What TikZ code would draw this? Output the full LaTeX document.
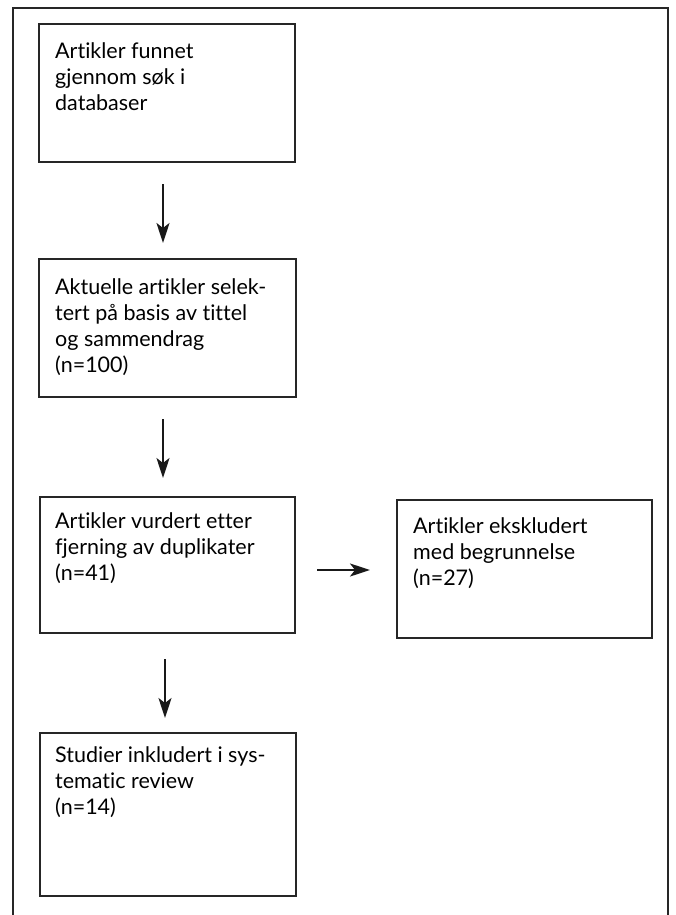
\documentclass[tikz,border=0pt]{standalone}
\usepackage{fontspec}
\setmainfont{Lato}[Ligatures={NoCommon,NoRare}]
\usetikzlibrary{arrows.meta}
\begin{document}
\begin{tikzpicture}[x=1pt,y=-1pt,
  box/.style={draw=black!85,line width=2pt,inner sep=0pt,rectangle},
  txt/.style={anchor=north west,inner sep=0pt,align=left,font=\fontsize{21.5}{26}\selectfont,text=black},
  arr/.style={line width=2pt,black!90,-{Stealth[length=20pt,width=13pt,inset=5pt]}}]
\useasboundingbox (0,0) rectangle (676,915);
\draw[line width=2pt,black!85] (13,925) -- (13,8) -- (668,8) -- (668,925);
\node[box,minimum width=256pt,minimum height=138pt] (b1) at (167,93) {};
\node[box,minimum width=257pt,minimum height=138pt] (b2) at (167.5,328) {};
\node[box,minimum width=255pt,minimum height=136pt] (b3) at (167.5,565) {};
\node[box,minimum width=255pt,minimum height=138pt] (b4) at (524.5,569) {};
\node[box,minimum width=256pt,minimum height=163pt] (b5) at (168,814.5) {};
\node[txt] (t1) at (55,42) {Artikler funnet\\gjennom søk i\\databaser};
\node[txt] (t2) at (55,278) {Aktuelle artikler selek-\\tert på basis av tittel\\og sammendrag\\(n=100)};
\node[txt] (t3) at (55,512) {Artikler vurdert etter\\fjerning av duplikater\\(n=41)};
\node[txt] (t4) at (413,517) {Artikler ekskludert\\med begrunnelse\\(n=27)};
\node[txt] (t5) at (55,746) {Studier inkludert i sys-\\tematic review\\(n=14)};
\draw[arr,shorten <=21pt,shorten >=15pt] ([xshift=-4pt]b1.south) -- ([xshift=-4pt]b1.south |- b2.north);
\draw[arr,shorten <=21pt,shorten >=18pt] ([xshift=-4.5pt]b2.south) -- ([xshift=-4.5pt]b2.south |- b3.north);
\draw[arr,shorten <=25pt,shorten >=14pt] ([xshift=-2.5pt]b3.south) -- ([xshift=-2.5pt]b3.south |- b5.north);
\draw[arr,shorten <=21pt,shorten >=26pt] ([yshift=-5pt]b3.east) -- ([yshift=-5pt]b3.east -| b4.west);
\end{tikzpicture}
\end{document}
